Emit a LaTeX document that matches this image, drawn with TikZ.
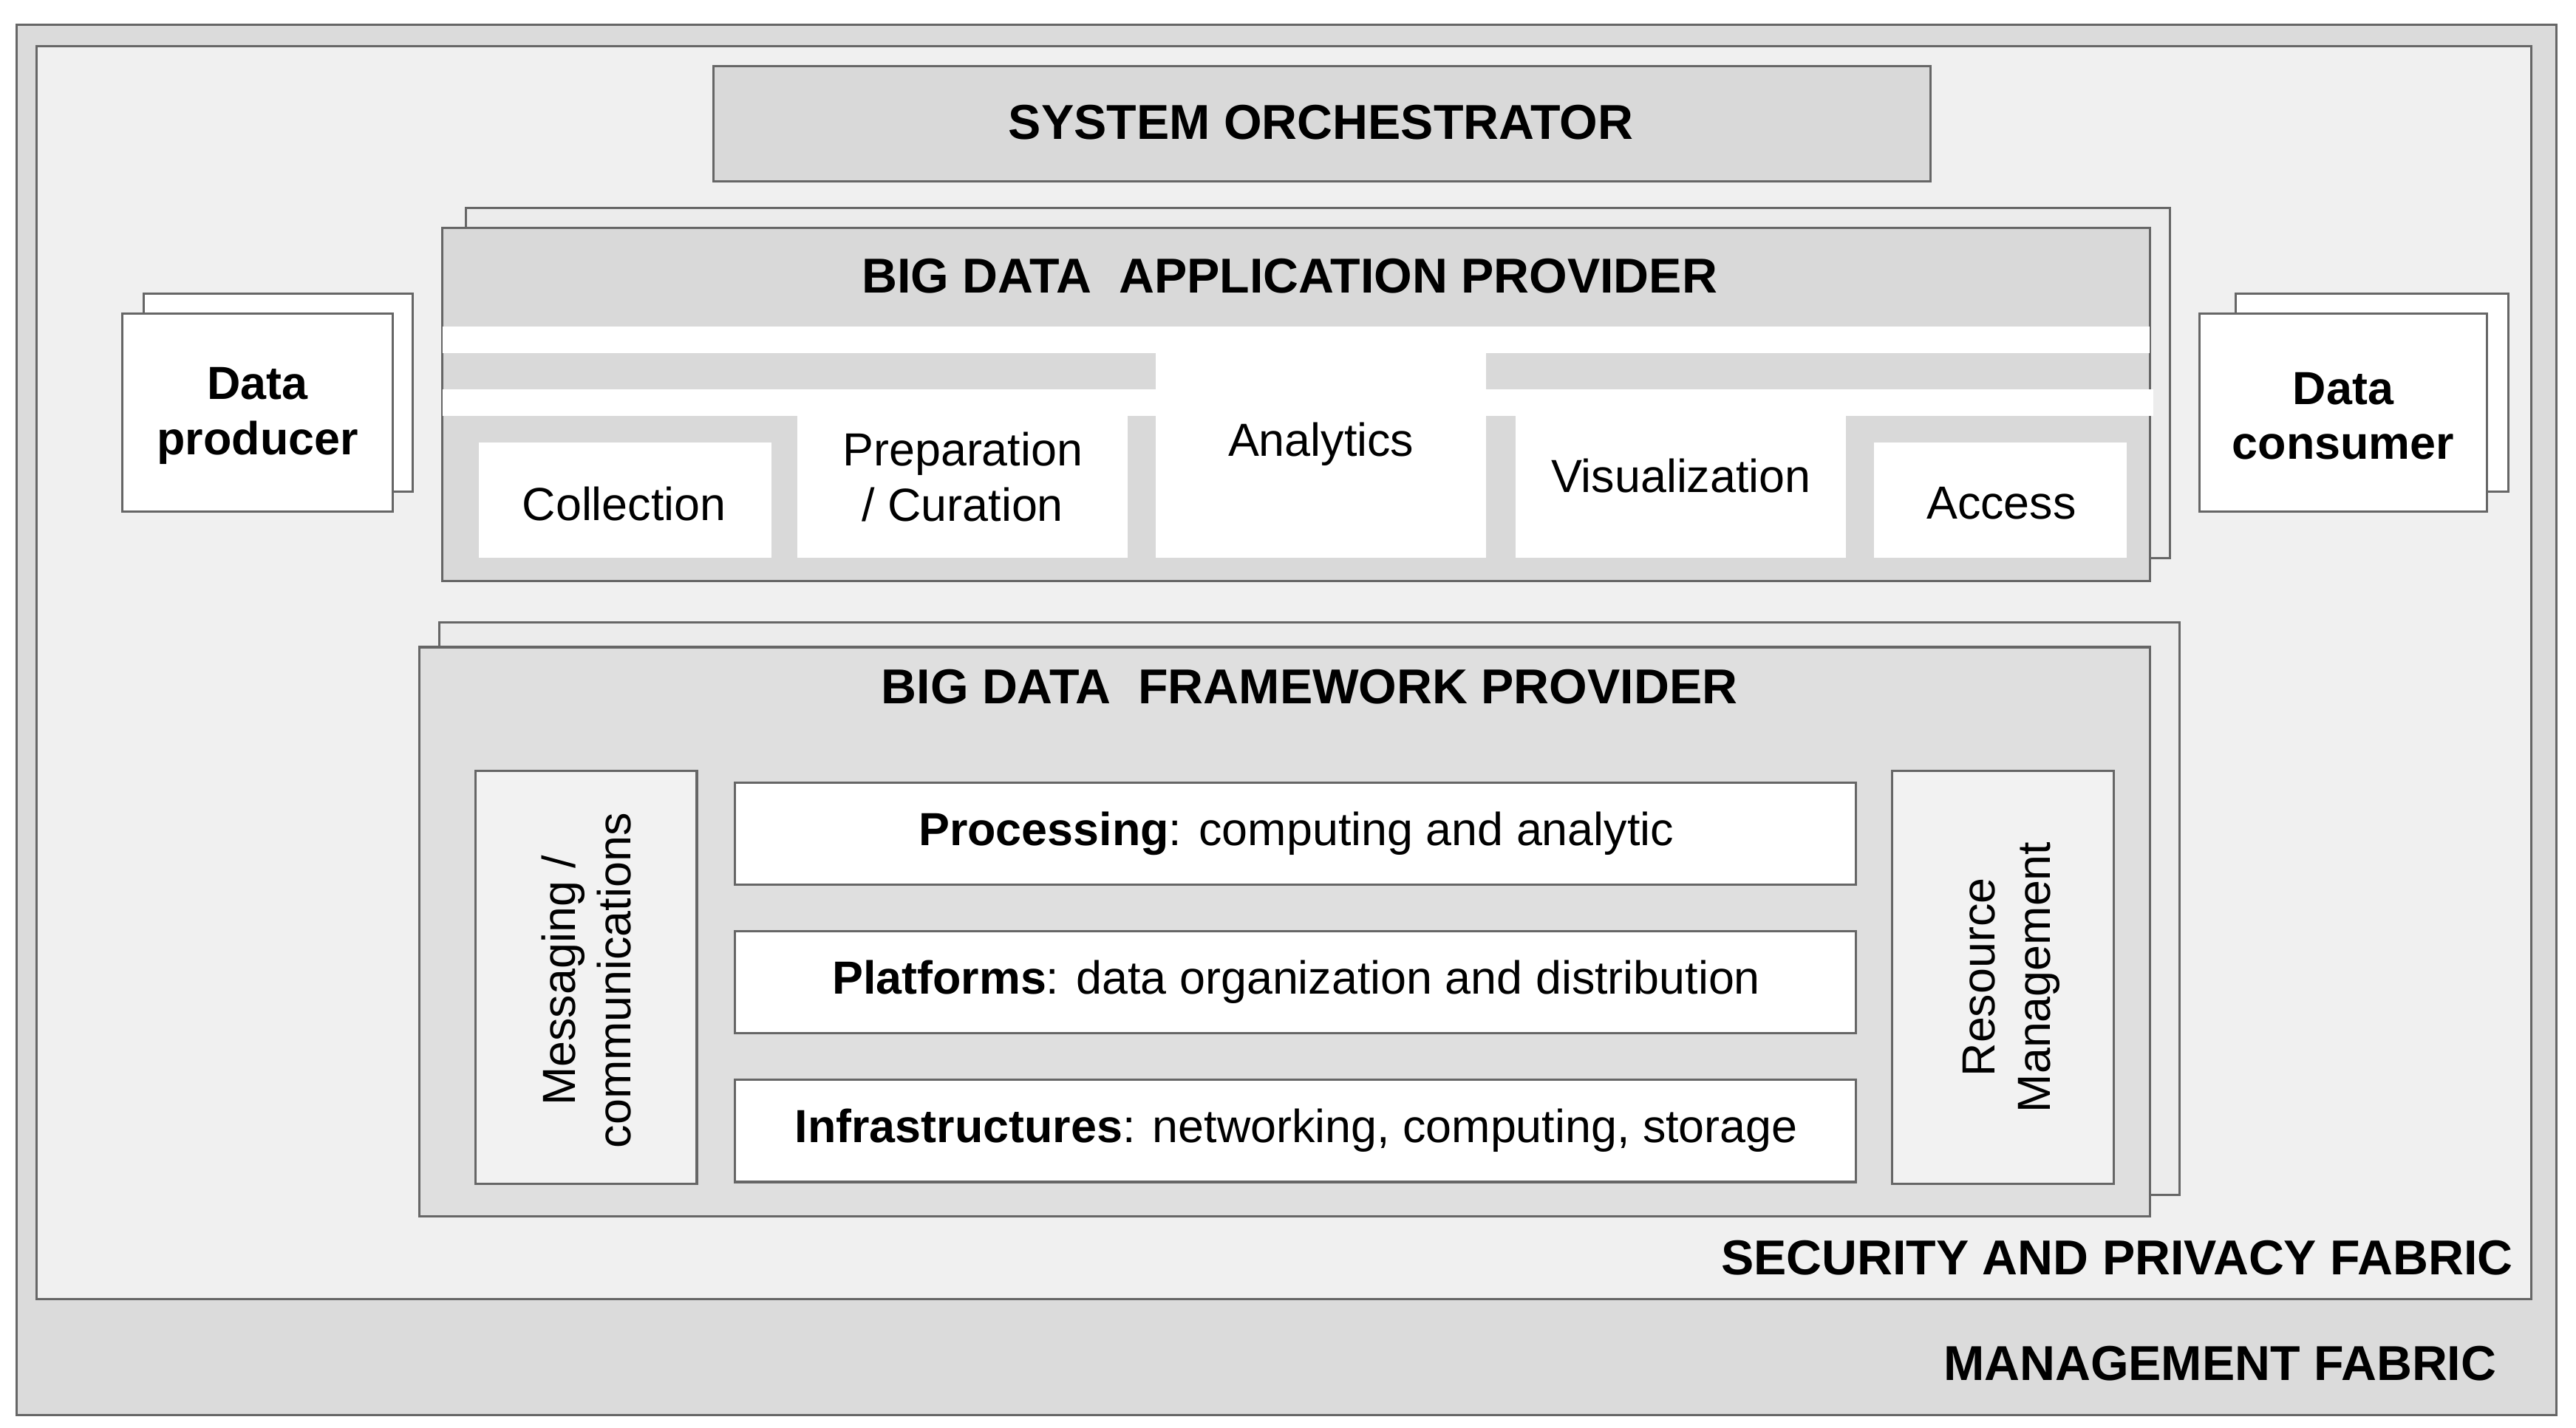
\documentclass[tikz,border=0pt]{standalone}
\usepackage{fontspec}
\setmainfont{Liberation Sans}
\begin{document}
\begin{tikzpicture}[x=0.02cm,y=-0.02cm,
 frame/.style={draw=gray!80!black,line width=0.8pt},
 wbox/.style={frame,fill=white},
 gbox/.style={frame,fill=gray!30},
 ttl/.style={font=\fontsize{16.9}{18}\selectfont\bfseries},
 txt/.style={font=\fontsize{16}{19}\selectfont,align=center},
 btxt/.style={font=\fontsize{16}{19}\selectfont\bfseries,align=center}]
\useasboundingbox (0,0) rectangle (1560,865);
\fill[white] (0,0) rectangle (1560,865);
\draw[gbox,fill=gray!28] (10,15) rectangle (1548,857);
\draw[frame,fill=gray!12] (22,28) rectangle (1533,787);
\node[ttl,anchor=east] (sec) at (1528,762) {SECURITY AND PRIVACY FABRIC};
\node[ttl,anchor=east] (mgt) at (1518,826) {MANAGEMENT FABRIC};
% orchestrator
\draw[gbox] (432,40) rectangle (1169,110);
\node[ttl] (orch) at (800,74) {SYSTEM ORCHESTRATOR};
% application provider
\draw[frame,fill=gray!15] (282,126) rectangle (1314,338);
\draw[gbox] (268,138) rectangle (1302,352);
\node[ttl] (app) at (781,167) {BIG DATA\ \ APPLICATION PROVIDER};
\fill[white] (268,198) rectangle (1302,214);
\fill[white] (268,236) rectangle (700,252);
\fill[white] (900,236) rectangle (1304,252);
\fill[white] (290,268) rectangle (467,338);
\fill[white] (483,236) rectangle (683,338);
\fill[white] (700,214) rectangle (900,338);
\fill[white] (918,236) rectangle (1118,338);
\fill[white] (1135,268) rectangle (1288,338);
\node[txt] (col) at (378,305) {Collection};
\node[txt] (prep) at (583,289) {Preparation\\/ Curation};
\node[txt] (ana) at (800,269) {Analytics};
\node[txt] (vis) at (1018,288) {Visualization};
\node[txt] (acc) at (1212,305) {Access};
% producer / consumer
\draw[wbox] (87,178) rectangle (250,298);
\draw[wbox] (74,190) rectangle (238,310);
\node[btxt] (prod) at (156,252) {Data\\producer};
\draw[wbox] (1354,178) rectangle (1519,298);
\draw[wbox] (1332,190) rectangle (1506,310);
\node[btxt] (cons) at (1419,252) {Data\\consumer};
% framework provider
\draw[frame,fill=gray!15] (266,377) rectangle (1320,724);
\draw[gbox,fill=gray!25] (254,392) rectangle (1302,737);
\node[ttl] (fw) at (793,416) {BIG DATA\ \ FRAMEWORK PROVIDER};
\draw[frame,fill=gray!10] (288,467) rectangle (422,717);
\node[txt,rotate=90] (msg) at (355,594) {Messaging /\\communications};
\draw[frame,fill=gray!10] (1146,467) rectangle (1280,717);
\node[txt,rotate=90] (res) at (1218,592) {Resource\\Management};
\draw[wbox] (445,474) rectangle (1124,536);
\node[txt] (proc) at (785,505) {\textbf{Processing}: computing and analytic};
\draw[wbox] (445,564) rectangle (1124,626);
\node[txt] (plat) at (785,595) {\textbf{Platforms}: data organization and distribution};
\draw[wbox] (445,654) rectangle (1124,716);
\node[txt] (inf) at (785,685) {\textbf{Infrastructures}: networking, computing, storage};
\end{tikzpicture}
\end{document}
